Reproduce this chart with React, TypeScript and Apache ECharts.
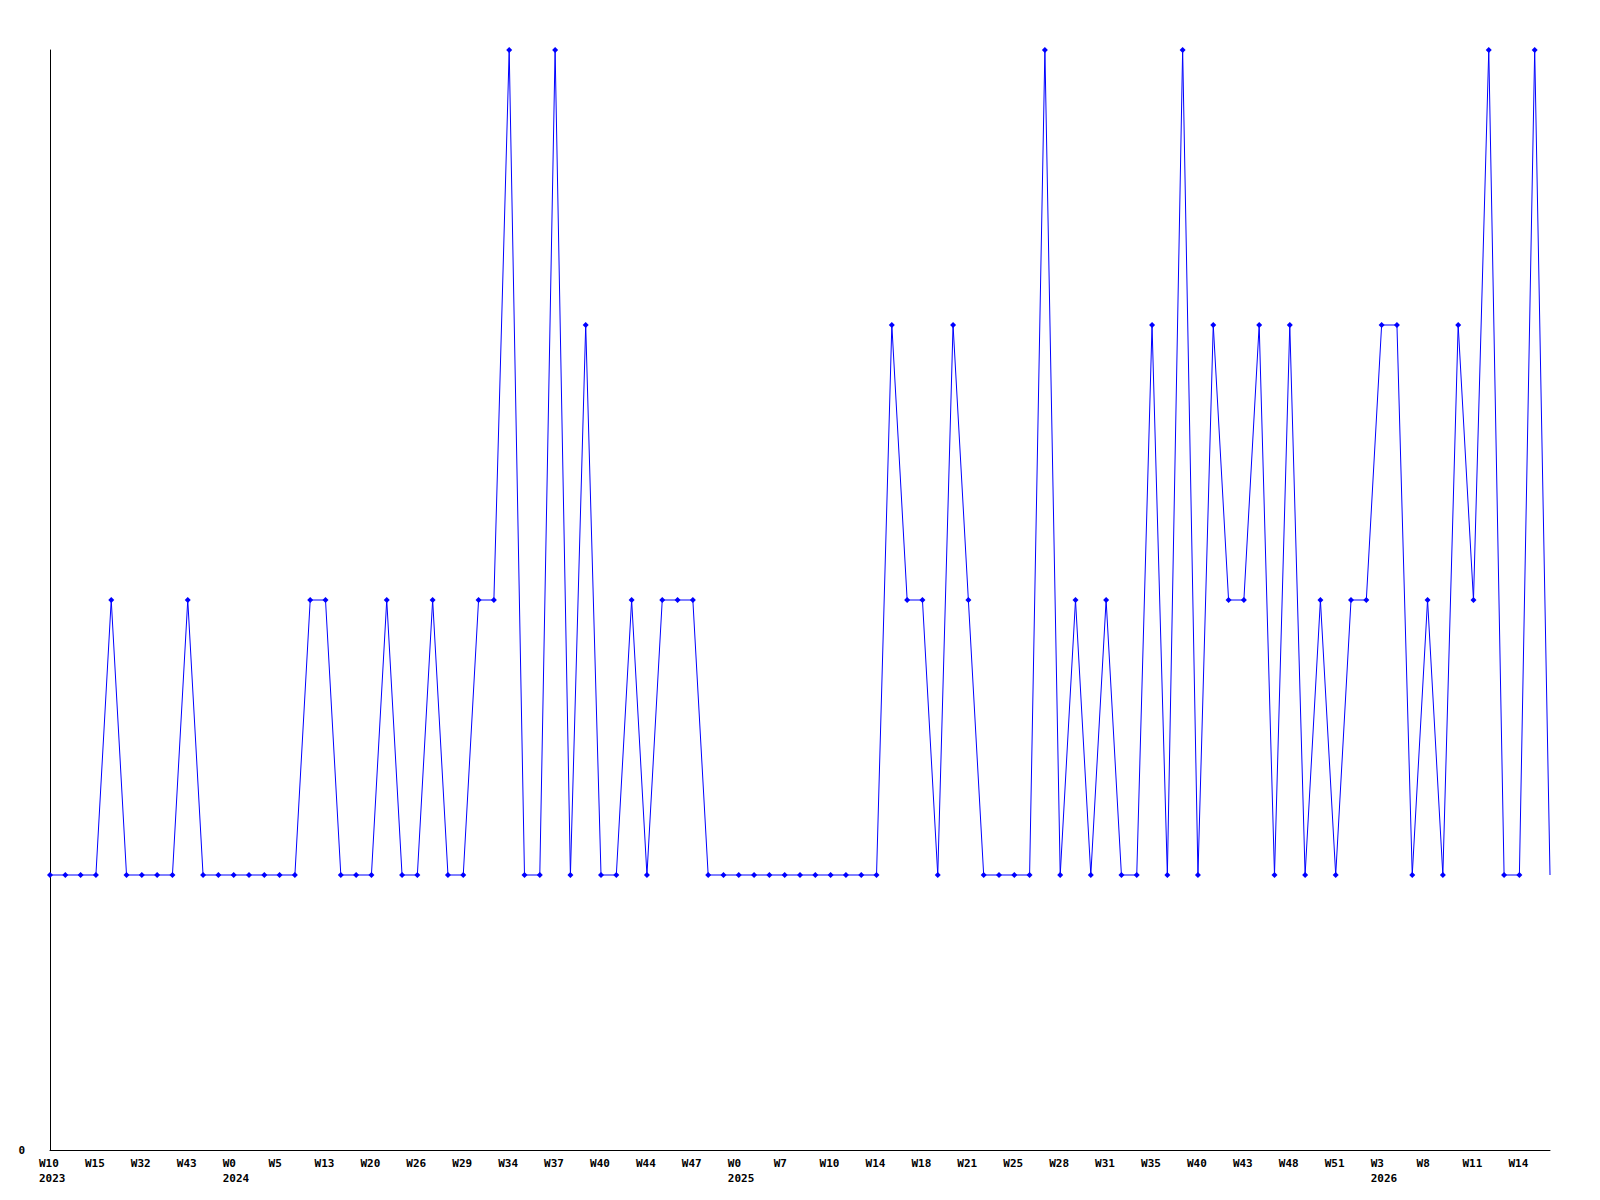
import React, { useEffect, useRef } from "react";
import * as echarts from "echarts";

const tickLabels = [
  "W10\n2023", "W15", "W32", "W43", "W0\n2024", "W5", "W13", "W20", "W26", "W29",
  "W34", "W37", "W40", "W44", "W47", "W0\n2025", "W7", "W10", "W14", "W18",
  "W21", "W25", "W28", "W31", "W35", "W40", "W43", "W48", "W51", "W3\n2026",
  "W8", "W11", "W14",
];

const values = [
  1, 1, 1, 1, 2, 1, 1, 1, 1, 2,
  1, 1, 1, 1, 1, 1, 1, 2, 2, 1,
  1, 1, 2, 1, 1, 2, 1, 1, 2, 2,
  4, 1, 1, 4, 1, 3, 1, 1, 2, 1,
  2, 2, 2, 1, 1, 1, 1, 1, 1, 1,
  1, 1, 1, 1, 1, 3, 2, 2, 1, 3,
  2, 1, 1, 1, 1, 4, 1, 2, 1, 2,
  1, 1, 3, 1, 4, 1, 3, 2, 2, 3,
  1, 3, 1, 2, 1, 2, 2, 3, 3, 1,
  2, 1, 3, 2, 4, 1, 1, 4, 1,
];

const categories = values.map((_, i) => (i % 3 === 0 ? tickLabels[i / 3] : ""));

export default function App() {
  const ref = useRef<HTMLDivElement>(null);
  useEffect(() => {
    if (!ref.current) return;
    const chart = echarts.init(ref.current, undefined, { renderer: "svg" });
    const font = "'DejaVu Sans Mono', monospace";
    const seriesData = values.map((v, i) =>
      i === values.length - 1 ? { value: v, symbol: "none" } : v
    );
    chart.setOption({
      animation: false,
      backgroundColor: "#ffffff",
      grid: { left: 50, right: 50, top: 50, bottom: 50, containLabel: false },
      xAxis: {
        type: "category",
        data: categories,
        boundaryGap: false,
        axisLine: { show: true, lineStyle: { color: "#000", width: 1 } },
        axisTick: { show: false },
        splitLine: { show: false },
        axisLabel: {
          interval: 2,
          color: "#000",
          fontFamily: font,
          fontWeight: "bold",
          fontSize: 11,
          lineHeight: 15,
          align: "left",
          padding: [0, 0, 0, -11],
          margin: 6,
        },
      },
      yAxis: {
        type: "value",
        min: 0,
        max: 4,
        interval: 4,
        axisLine: { show: true, lineStyle: { color: "#000", width: 1 } },
        axisTick: { show: false },
        splitLine: { show: false },
        axisLabel: {
          color: "#000",
          fontFamily: font,
          fontWeight: "bold",
          fontSize: 11,
          margin: 25,
          formatter: (v: number) => (v === 0 ? "0" : ""),
        },
      },
      series: [
        {
          type: "line",
          data: seriesData,
          symbol: "diamond",
          symbolSize: 6,
          showSymbol: true,
          lineStyle: { color: "#0000ff", width: 1 },
          itemStyle: { color: "#0000ff" },
        },
      ],
    });
    return () => chart.dispose();
  }, []);
  return (
    <div
      ref={ref}
      style={{ position: "fixed", left: 0, top: 0, width: 1600, height: 1200 }}
    />
  );
}
